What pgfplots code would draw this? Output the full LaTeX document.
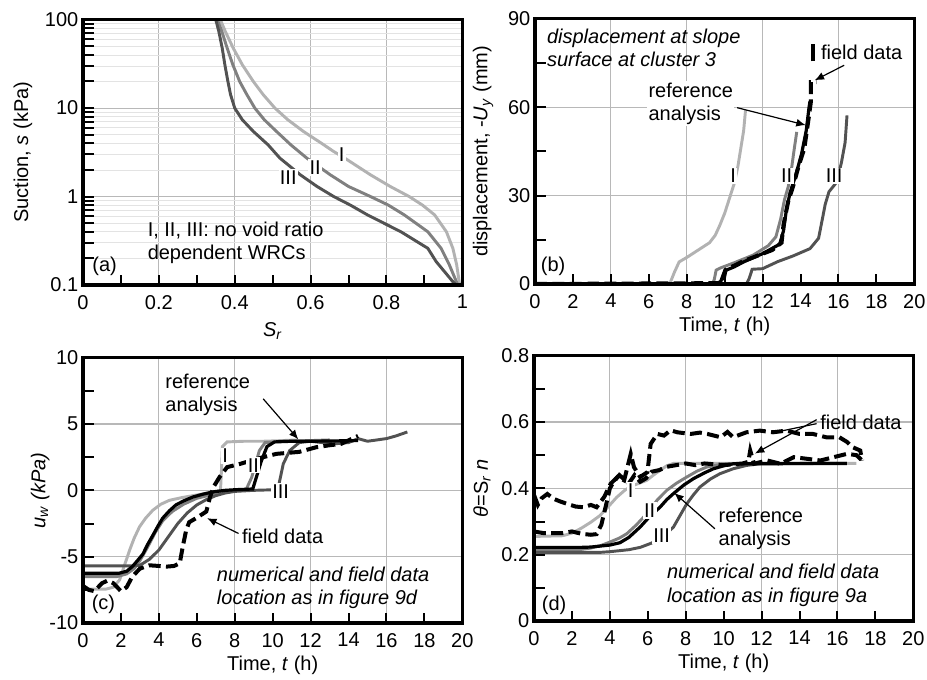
\documentclass[border=0pt]{standalone}
\usepackage{fontspec}
\setmainfont{Liberation Sans}
\usepackage{pgfplots}
\pgfplotsset{compat=1.18}
\usetikzlibrary{arrows.meta}

\newcommand{\fs}{\fontsize{15}{17.5}\selectfont}
\definecolor{colI}{gray}{0.70}
\definecolor{colII}{gray}{0.50}
\definecolor{colIII}{gray}{0.32}
\definecolor{gridc}{gray}{0.72}

\tikzset{
  lab/.style={fill=white, inner sep=1pt, font=\fs},
  txt/.style={font=\fs, inner sep=0pt, align=left, anchor=west},
  arr/.style={-{Latex[length=7pt,width=6pt]}, line width=0.9pt},
  tickmark/.style={black, line width=1.5pt},
  framebox/.style={black, line width=2.3pt},
}
\newcommand{\panelframe}[3]{%
  \draw[framebox] (#1,#2) rectangle ++(284.5pt,199pt);
  \foreach \k in {1,...,9} {\draw[tickmark] ({#1+\k*28.45pt},#2) -- ++(0pt,7.5pt);}
  \foreach \f in {#3} {\draw[tickmark] (#1,{#2+\f*199pt}) -- ++(8pt,0pt);}
}
\pgfplotsset{
  panel/.style={
    scale only axis, width=284.5pt, height=199pt, anchor=south west,
    axis line style={line width=1pt, black},
    xtick pos=bottom, ytick pos=left, tick align=inside,
    major tick length=0pt, minor tick length=0pt,
    tick label style={font=\fs},
    xticklabel style={yshift=-4pt},
    label style={font=\fs},
    major grid style={gridc, line width=0.8pt},
  },
  timex/.style={
    xmin=0, xmax=20, xtick={0,2,4,6,8,10,12,14,16,18,20},
    xticklabels={0,2,4,6,8,10,12,14,16,18,20},
    extra x ticks={4,8,12,16}, extra x tick labels={},
    extra x tick style={grid=major},
    xlabel={Time, \textit{t} (h)},
    xlabel style={at={(axis description cs:0.5,-0.16)}, anchor=center},
  },
  sI/.style={colI, line width=2.2pt},
  sII/.style={colII, line width=2.2pt},
  sIII/.style={colIII, line width=2.2pt},
  sref/.style={black, line width=2.4pt},
  sfield/.style={black, line width=3pt, dash pattern=on 9pt off 4pt},
}

\begin{document}
\begin{tikzpicture}
\path[use as bounding box] (0,0) rectangle (695.25pt,509.25pt);

% ---------------- (a)
\begin{axis}[panel, at={(62.25pt,295.5pt)},
  xmin=0, xmax=1, xtick={0,0.2,0.4,0.6,0.8,1},
  xticklabels={0,0.2,0.4,0.6,0.8,1}, xmajorgrids,
  ymode=log, ymin=0.1, ymax=100, ytick={0.1,1,10,100},
  yticklabels={0.1,1,10,100}, ymajorgrids, yminorgrids,
  minor grid style={gray!22, line width=0.5pt},
  xlabel={\textit{S}\textsubscript{\textit{r}}},
  ylabel={Suction, \textit{s} (kPa)},
  xlabel style={at={(axis description cs:0.5,-0.175)}, anchor=center},
  ylabel style={at={(axis description cs:-0.158,0.5)}, anchor=center},
]
\addplot[sI] coordinates {(0.362,100) (0.375,73.8) (0.396,47.7) (0.42,30.9) (0.449,20) (0.475,14.2) (0.506,10) (0.54,7.38) (0.581,5.45) (0.625,4.1) (0.661,3.23) (0.69,2.72) (0.758,1.76) (0.81,1.30) (0.86,1.0) (0.895,0.80) (0.927,0.62) (0.958,0.40) (0.975,0.26) (0.985,0.17) (0.993,0.1)};
\addplot[sII] coordinates {(0.354,100) (0.366,73.8) (0.38,47.7) (0.395,30.9) (0.413,20) (0.432,14.2) (0.453,10) (0.478,7.38) (0.51,5.45) (0.548,3.84) (0.59,2.72) (0.652,1.76) (0.70,1.30) (0.758,1.0) (0.805,0.80) (0.847,0.62) (0.909,0.40) (0.944,0.26) (0.966,0.168) (0.988,0.1)};
\addplot[sIII] coordinates {(0.350,100) (0.358,73.8) (0.367,47.7) (0.374,30.9) (0.382,20) (0.389,14.2) (0.400,10) (0.42,7.38) (0.449,5.45) (0.488,3.84) (0.519,2.72) (0.573,1.76) (0.617,1.30) (0.661,1.0) (0.705,0.80) (0.750,0.62) (0.838,0.40) (0.909,0.26) (0.931,0.184) (0.975,0.109) (0.984,0.1)};
\node[lab] at (axis cs:0.682,3.0) {I};
\node[lab] at (axis cs:0.612,2.12) {II};
\node[lab] at (axis cs:0.541,1.64) {III};
\node[txt] at (axis cs:0.17,0.30) {I, II, III: no void ratio\\dependent WRCs};
\node[txt] at (axis cs:0.024,0.164) {(a)};
\end{axis}

% ---------------- (b)
\begin{axis}[panel, timex, at={(401.25pt,296.25pt)},
  ymin=0, ymax=90, ytick={0,30,60,90}, yticklabels={0,30,60,90},
  ymajorgrids,
  ylabel={displacement, -\textit{U}\textsubscript{\textit{y}} (mm)},
  ylabel style={at={(axis description cs:-0.137,0.5)}, anchor=center},
]
\addplot[sI] coordinates {(0,0) (7.1,0) (7.35,4) (7.6,7.5) (8.0,9) (8.6,11.5) (9.2,14) (9.5,16.5) (9.75,20) (10.0,24) (10.3,30) (10.5,34) (10.7,40) (10.85,46) (11.0,52) (11.1,59)};
\addplot[sII] coordinates {(0,0) (9.35,0) (9.45,1.5) (9.55,4.7) (9.8,5.5) (10.5,7.2) (11.5,9.8) (12.3,13) (12.7,16) (12.95,22) (13.15,28.5) (13.35,33) (13.5,38) (13.65,45) (13.8,51.6)};
\addplot[sIII] coordinates {(0,0) (11.15,0) (11.3,2) (11.45,5) (12,5.2) (12.8,7.6) (13.6,9.5) (14.5,12) (14.95,15.5) (15.15,22) (15.3,27) (15.5,31.3) (15.9,34.5) (16.15,41) (16.35,48) (16.45,57.2)};
\addplot[sref] coordinates {(0,0) (9.6,0) (9.8,1) (10.0,4.5) (10.5,5.8) (11,7.5) (12,10.3) (12.9,13.5) (13.1,18) (13.25,25) (13.45,31) (13.75,37) (14.05,44) (14.3,52) (14.45,60) (14.5,62)};
\addplot[sfield] coordinates {(0,0) (9.9,0.3) (10.05,4.8) (11,7.8) (12.5,11.5) (13.0,14) (13.1,20) (13.35,28) (13.6,33) (13.9,40) (14.2,46) (14.4,55) (14.55,62) (14.55,68.5) (14.85,68.5)};
\node[lab] at (axis cs:10.45,36.6) {I};
\node[lab] at (axis cs:13.27,36.6) {II};
\node[lab] at (axis cs:15.77,36.6) {III};
\node[txt, font=\fs\itshape] at (axis cs:0.62,80.1) {displacement at slope\\surface at cluster 3};
\node[txt, fill=white, inner sep=1pt] at (axis cs:5.9,61.2) {reference\\analysis};
\draw[arr] (axis cs:10.66,59.8) -- (axis cs:14.27,53.9);
\draw[line width=2.6pt] (axis cs:14.66,75.5) -- (axis cs:14.66,81.5);
\node[txt] at (axis cs:15.07,78.7) {field data};
\draw[arr] (axis cs:16.3,74.2) -- (axis cs:14.75,69.1);
\node[txt] at (axis cs:0.3,5.9) {(b)};
\end{axis}

% ---------------- (c)
\begin{axis}[panel, timex, at={(62.25pt,42pt)},
  ymin=-10, ymax=10, ytick={-10,-5,0,5,10}, yticklabels={-10,-5,0,5,10},
  ymajorgrids,
  ylabel={\textit{u}\textsubscript{\textit{w}} \textit{(kPa)}},
  ylabel style={at={(axis description cs:-0.113,0.5)}, anchor=center},
]
\addplot[sI] coordinates {(0,-7.4) (0.5,-7.45) (1.2,-7.45) (1.6,-7.3) (1.93,-6.75) (2.2,-5.6) (2.46,-4.5) (2.7,-3.6) (2.98,-2.75) (3.3,-2.1) (3.68,-1.5) (4.1,-1.05) (4.56,-0.75) (5.2,-0.55) (5.8,-0.4) (6.4,-0.25) (7.0,-0.1) (7.25,0) (7.3,1.5) (7.35,3.3) (7.6,3.65) (8.5,3.7) (9.5,3.7) (10.5,3.75) (11.3,3.8)};
\addplot[sII] coordinates {(0,-6.5) (1.8,-6.5) (2.3,-6.3) (2.7,-5.9) (3.0,-5.3) (3.4,-4.3) (3.8,-3.2) (4.2,-2.3) (4.7,-1.6) (5.3,-1.05) (6,-0.6) (7,-0.25) (8,-0.05) (8.6,0.05) (8.9,1.0) (9.1,2.0) (9.3,3.0) (9.6,3.6) (10.5,3.7) (12,3.75) (13,3.8)};
\addplot[sIII] coordinates {(0,-5.7) (2.5,-5.7) (3.0,-5.65) (3.5,-5.2) (4,-4.5) (4.5,-3.5) (5,-2.5) (5.5,-1.7) (6,-1.1) (6.5,-0.7) (7,-0.4) (7.5,-0.2) (8,-0.08) (9,0) (10.2,0.05) (10.3,0.25) (10.56,2.0) (10.9,3.0) (11.4,3.6) (12,3.7) (13.2,3.5) (14,3.6) (14.5,3.9) (15,3.7) (15.5,3.8) (16,3.9) (16.5,4.1) (17.1,4.4)};
\addplot[sref] coordinates {(0,-6.25) (1.9,-6.25) (2.3,-6.1) (2.6,-5.75) (2.9,-5.25) (3.16,-4.8) (3.4,-4.1) (3.68,-3.4) (3.95,-2.7) (4.2,-2.1) (4.55,-1.55) (4.9,-1.1) (5.3,-0.8) (5.8,-0.5) (6.3,-0.3) (6.84,-0.12) (7.5,0) (8.07,0.05) (8.95,0.1) (9.1,0.8) (9.4,2.2) (9.7,3.3) (10.1,3.65) (11,3.7) (12,3.7) (13,3.72) (14.5,3.75)};
\addplot[sfield] coordinates {(0,-7.2) (0.3,-7.5) (0.6,-7.6) (1.0,-7.0) (1.3,-6.8) (1.6,-7.0) (2.0,-7.6) (2.3,-7.3) (2.6,-6.5) (3.0,-5.9) (3.5,-5.65) (4.0,-5.7) (4.4,-5.75) (4.8,-5.7) (5.1,-5.5) (5.26,-4.25) (5.44,-3.0) (5.6,-2.4) (5.96,-2.1) (6.5,-1.6) (6.7,-0.5) (6.9,0.3) (7.2,1.0) (7.6,1.75) (8.3,2.0) (9.0,2.3) (9.5,2.5) (10.2,2.75) (11.4,2.9) (12.3,3.25) (13.0,3.4) (13.6,3.5) (14.2,3.9) (14.5,4.1)};
\node[lab] at (axis cs:7.5,2.6) {I};
\node[lab] at (axis cs:8.98,1.9) {II};
\node[lab] at (axis cs:10.42,-0.1) {III};
\node[txt] at (axis cs:4.33,7.2) {reference\\analysis};
\draw[arr] (axis cs:9.5,6.9) -- (axis cs:11.35,3.85);
\node[txt] at (axis cs:8.37,-3.5) {field data};
\draw[arr] (axis cs:8.2,-3.25) -- (axis cs:6.55,-2.1);
\node[txt, font=\fs\itshape] at (axis cs:7.05,-7.35) {numerical and field data\\location as in figure 9d};
\node[txt] at (axis cs:0.45,-8.6) {(c)};
\end{axis}

% ---------------- (d)
\begin{axis}[panel, timex, at={(400.5pt,43.5pt)},
  ymin=0, ymax=0.8, ytick={0,0.2,0.4,0.6,0.8}, yticklabels={0,0.2,0.4,0.6,0.8},
  ymajorgrids,
  ylabel={\textit{θ}=S\textsubscript{\textit{r}} \textit{n}},
  ylabel style={at={(axis description cs:-0.137,0.5)}, anchor=center},
]
\addplot[sI] coordinates {(0,0.255) (1.5,0.257) (2,0.265) (2.5,0.28) (3,0.298) (3.48,0.318) (4,0.35) (4.36,0.373) (4.8,0.395) (5.24,0.409) (5.94,0.424) (6.3,0.44) (6.64,0.454) (7.0,0.468) (7.35,0.475) (17,0.475)};
\addplot[sII] coordinates {(0,0.215) (2.5,0.216) (3,0.22) (3.5,0.227) (4,0.238) (4.5,0.25) (4.89,0.263) (5.4,0.29) (5.94,0.323) (6.5,0.365) (7.0,0.394) (7.5,0.415) (8.05,0.434) (8.6,0.452) (9.1,0.464) (10.0,0.474) (16,0.475)};
\addplot[sIII] coordinates {(0,0.207) (3.5,0.207) (4,0.209) (5,0.215) (5.6,0.222) (6.2,0.235) (6.64,0.25) (7.0,0.265) (7.35,0.283) (7.7,0.318) (8.05,0.353) (8.4,0.38) (8.75,0.404) (9.3,0.428) (9.8,0.444) (10.5,0.459) (11.2,0.469) (12,0.475) (16.5,0.475)};
\addplot[sref] coordinates {(0,0.222) (2.5,0.222) (3,0.223) (3.5,0.226) (4,0.229) (4.53,0.236) (5,0.252) (5.59,0.283) (6.1,0.315) (6.64,0.343) (7.0,0.366) (7.35,0.384) (7.9,0.41) (8.4,0.429) (9.0,0.447) (9.46,0.459) (10.0,0.468) (10.5,0.474) (16.5,0.475)};
\addplot[sfield] coordinates {(0,0.38) (0.2,0.35) (0.4,0.37) (0.7,0.383) (1.05,0.368) (1.4,0.36) (1.76,0.353) (2.2,0.345) (2.6,0.343) (3.0,0.35) (3.3,0.343) (3.7,0.374) (4.04,0.414) (4.4,0.434) (4.75,0.424) (5.1,0.504) (5.27,0.464) (5.6,0.434) (5.98,0.449) (6.15,0.534) (6.5,0.564) (6.85,0.559) (7.2,0.575) (7.56,0.569) (8.26,0.564) (8.75,0.568) (9.14,0.564) (9.84,0.554) (10.2,0.57) (10.5,0.554) (11.2,0.569) (11.9,0.574) (12.6,0.569) (13.3,0.574) (14.0,0.564) (14.7,0.564) (15.4,0.554) (16.1,0.554) (16.5,0.54) (16.8,0.524) (17.2,0.514) (17.3,0.484)};
\addplot[sfield] coordinates {(0,0.27) (0.5,0.265) (1,0.265) (1.5,0.265) (2,0.27) (2.5,0.263) (3.0,0.26) (3.3,0.262) (3.55,0.29) (3.8,0.35) (4.0,0.4) (4.2,0.42) (4.5,0.44) (4.8,0.425) (5.0,0.415) (5.3,0.44) (5.6,0.42) (5.9,0.43) (6.2,0.45) (6.6,0.455) (7.0,0.465) (7.5,0.47) (8,0.475) (8.5,0.47) (9,0.475) (10,0.47) (11,0.475) (11.3,0.48) (11.4,0.514) (11.6,0.474) (12.0,0.48) (12.3,0.484) (13.0,0.474) (13.7,0.494) (14.4,0.489) (15.1,0.484) (15.8,0.494) (16.5,0.504) (17.0,0.5) (17.3,0.484)};
\node[lab] at (axis cs:5.1,0.394) {I};
\node[lab] at (axis cs:6.1,0.333) {II};
\node[lab] at (axis cs:6.73,0.258) {III};
\node[txt] at (axis cs:9.72,0.278) {reference\\analysis};
\draw[arr] (axis cs:9.54,0.278) -- (axis cs:7.4,0.386);
\node[txt] at (axis cs:15.08,0.6) {field data};
\draw[arr] (axis cs:14.9,0.607) -- (axis cs:11.65,0.505);
\draw[line width=0.9pt] (axis cs:14.9,0.595) -- (axis cs:12.8,0.57);
\node[txt, font=\fs\itshape] at (axis cs:7.0,0.1075) {numerical and field data\\location as in figure 9a};
\node[txt] at (axis cs:0.4,0.047) {(d)};
\end{axis}

% ---------------- frames and tick marks (plain TikZ, absolute positions)
\panelframe{62.25pt}{295.5pt}{0.1003,0.159,0.2007,0.233,0.2593,0.2817,0.301,0.318,0.3333,0.4336,0.4923,0.534,0.5663,0.5926,0.615,0.6343,0.6513,0.6667,0.767,0.8257,0.8674,0.8997,0.926,0.9484,0.9677,0.9847}
\panelframe{401.25pt}{296.25pt}{0.1667,0.3333,0.5,0.6667,0.8333}
\panelframe{62.25pt}{42pt}{0.125,0.25,0.375,0.5,0.625,0.75,0.875}
\panelframe{400.5pt}{43.5pt}{0.125,0.25,0.375,0.5,0.625,0.75,0.875}
\end{tikzpicture}
\end{document}
